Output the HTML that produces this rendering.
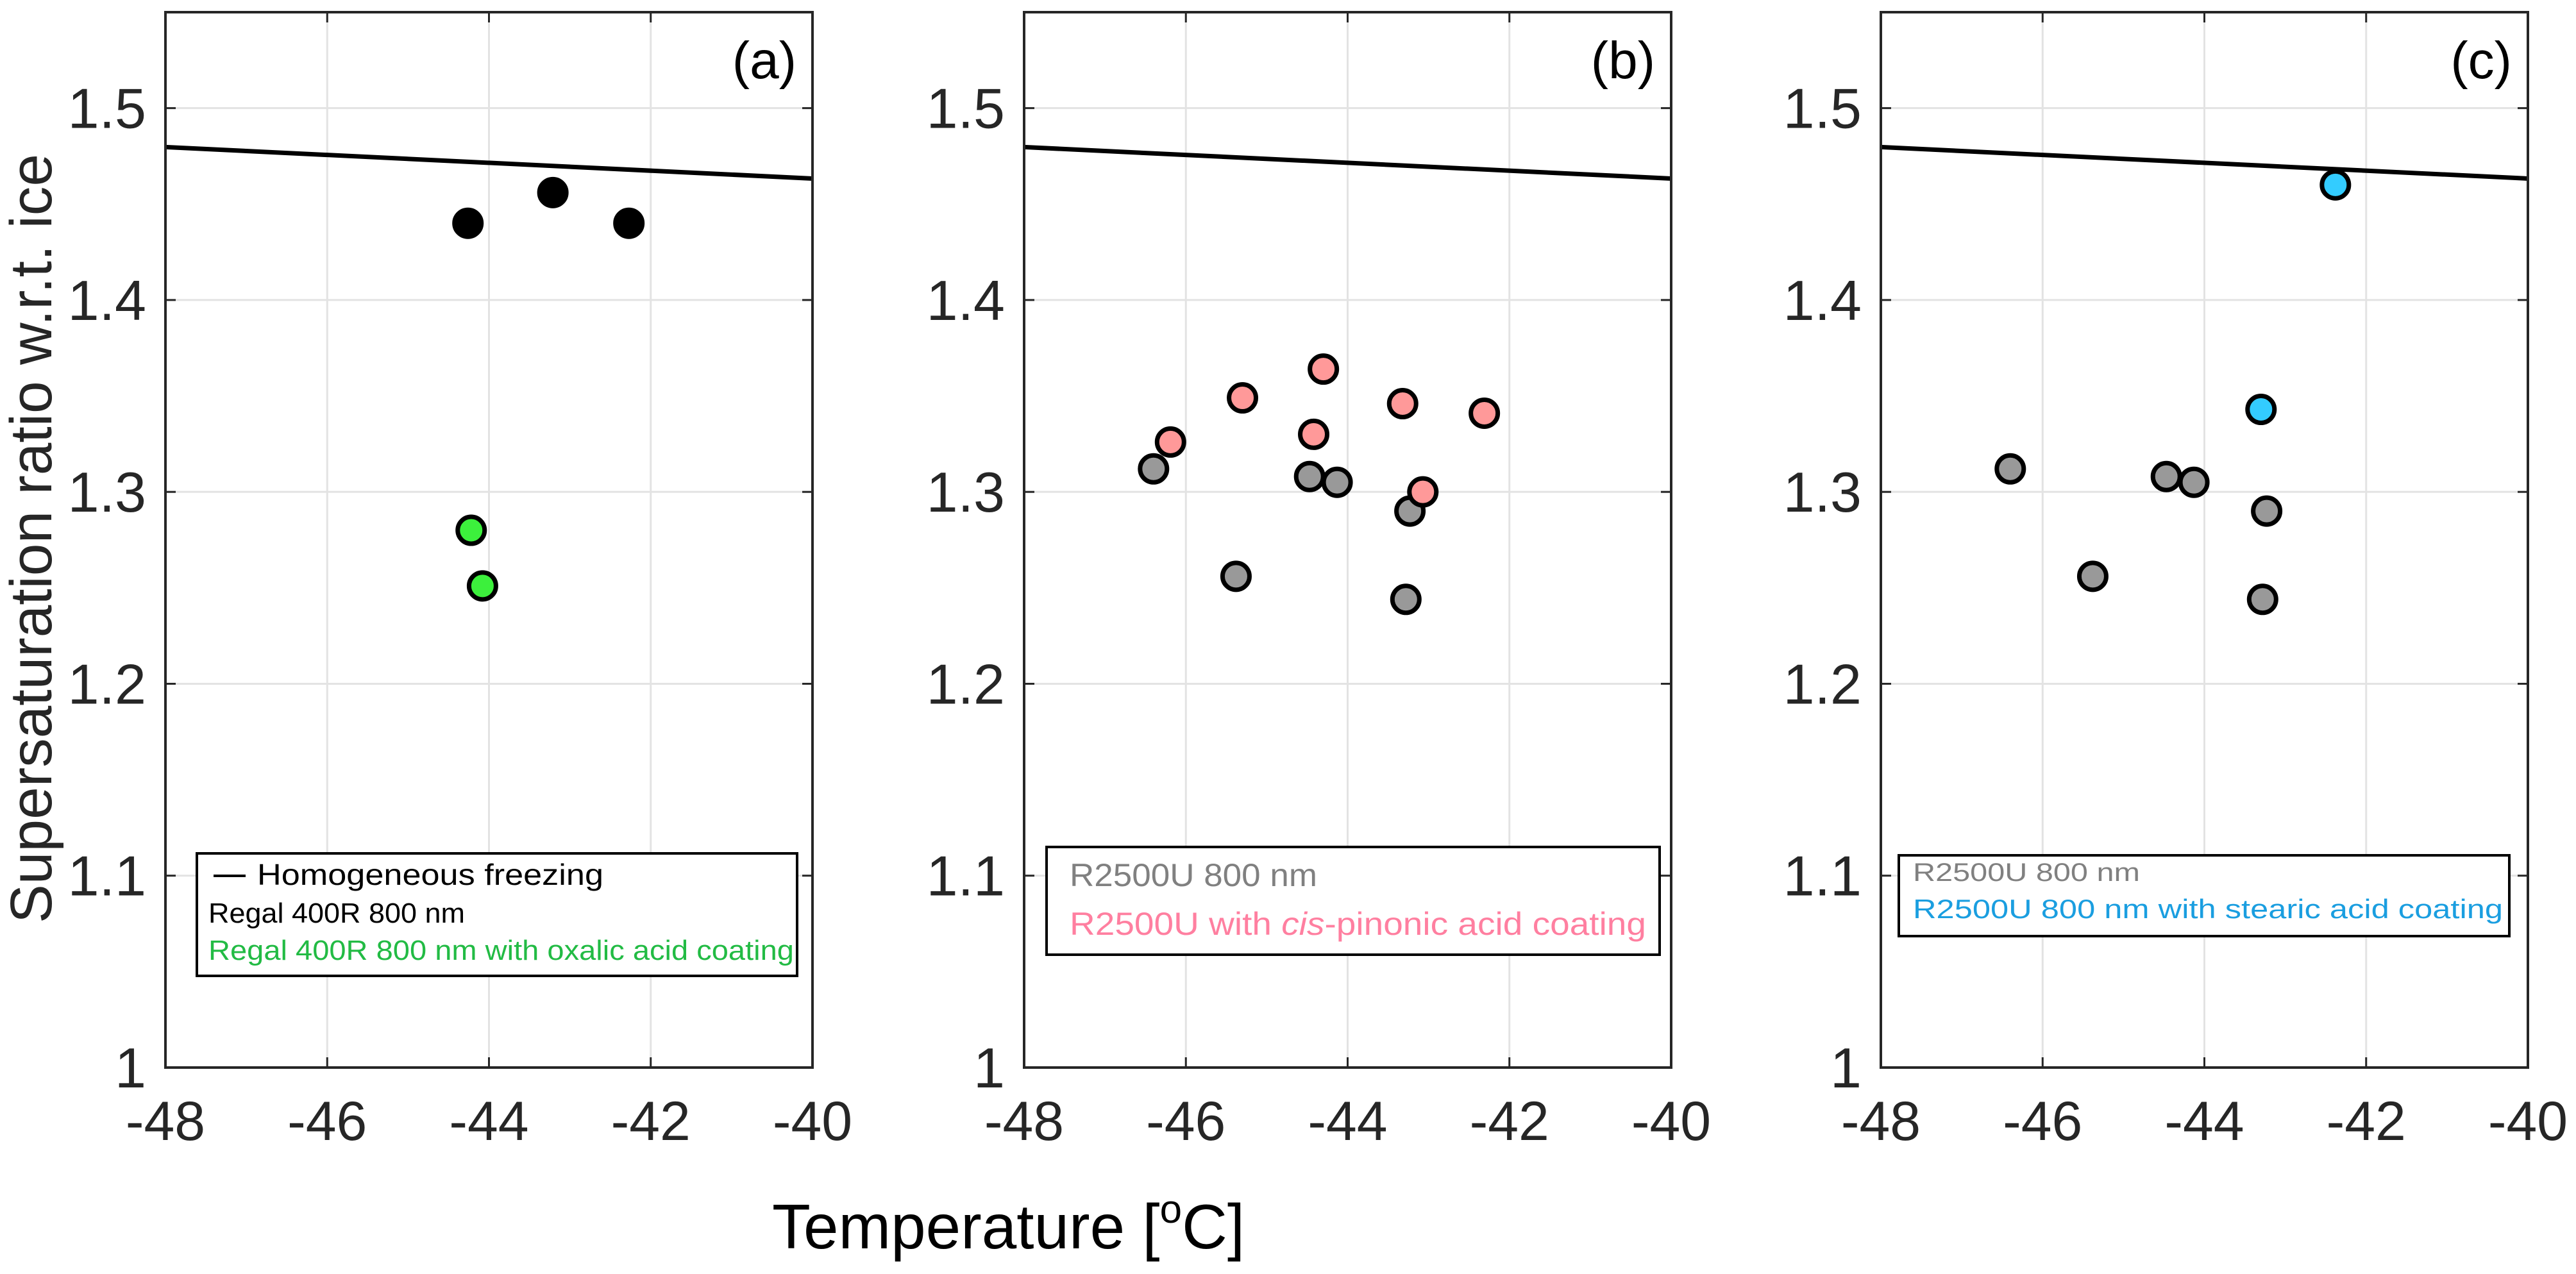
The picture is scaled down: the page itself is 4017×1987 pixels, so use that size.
<!DOCTYPE html>
<html><head><meta charset="utf-8">
<style>
html,body{margin:0;padding:0;background:#fff;}
svg{display:block;font-family:"Liberation Sans",sans-serif;}
</style></head>
<body>
<svg id="fig" width="4017" height="1987" viewBox="0 0 4017 1987" xmlns="http://www.w3.org/2000/svg"></svg>
<script>
// ---- data ----
const xTicks = [-48, -46, -44, -42, -40];
const yTicks = [1, 1.1, 1.2, 1.3, 1.4, 1.5];
const yTickLabels = ["1", "1.1", "1.2", "1.3", "1.4", "1.5"];
const homogT = [-48, -40];
const homogS = [1.4797, 1.4633];
const regalT = [-44.26, -43.21, -42.27];
const regalS = [1.440, 1.456, 1.440];
const oxalicT = [-44.22, -44.08];
const oxalicS = [1.280, 1.251];
const r2500T = [-46.40, -45.38, -44.47, -44.13, -43.23, -43.28];
const r2500S = [1.312, 1.256, 1.308, 1.305, 1.290, 1.244];
const pinonicT = [-46.19, -45.30, -44.30, -44.42, -43.32, -43.07, -42.31];
const pinonicS = [1.326, 1.349, 1.364, 1.330, 1.346, 1.300, 1.341];
const stearicT = [-42.38, -43.30];
const stearicS = [1.460, 1.343];

const NS = "http://www.w3.org/2000/svg";
const svg = document.getElementById("fig");
function mk(tag, attrs, parent) {
  const e = document.createElementNS(NS, tag);
  for (const k in attrs) e.setAttribute(k, attrs[k]);
  (parent || svg).appendChild(e);
  return e;
}
const TOP = 19, BOT = 1665, W = 1009;
const panels = [
  {left: 258, label: "(a)", key: "a"},
  {left: 1597, label: "(b)", key: "b"},
  {left: 2933, label: "(c)", key: "c"}
];
function xs(p, t) { return p.left + (t + 48) / 8 * W; }
function ys(s) { return BOT - (s - 1) / 0.55 * (BOT - TOP); }

panels.forEach(p => {
  const g = mk("g", {});
  
  
  mk("rect", {x: p.left, y: TOP, width: W, height: BOT - TOP, fill: "#fff"}, g);
  xTicks.forEach(t => {
    const l = mk("line", {x1: xs(p, t), x2: xs(p, t), y1: TOP, y2: BOT, stroke: "#e3e3e3", "stroke-width": 3}, g);
    
    
  });
  yTicks.forEach(v => {
    const l = mk("line", {x1: p.left, x2: p.left + W, y1: ys(v), y2: ys(v), stroke: "#e3e3e3", "stroke-width": 3}, g);
    
    
  });
  xTicks.forEach((t, i) => {
    const x = xs(p, t);
    mk("line", {x1: x, x2: x, y1: BOT, y2: BOT - 16, stroke: "#262626", "stroke-width": 3}, g);
    mk("line", {x1: x, x2: x, y1: TOP, y2: TOP + 16, stroke: "#262626", "stroke-width": 3}, g);
    const tx = mk("text", {x: x, y: 1778, "font-size": 86, fill: "#262626", "text-anchor": "middle"}, g);
    tx.textContent = String(t);
    
    
  });
  yTicks.forEach((v, i) => {
    const y = ys(v);
    mk("line", {x1: p.left, x2: p.left + 16, y1: y, y2: y, stroke: "#262626", "stroke-width": 3}, g);
    mk("line", {x1: p.left + W, x2: p.left + W - 16, y1: y, y2: y, stroke: "#262626", "stroke-width": 3}, g);
    const tx = mk("text", {x: p.left - 30, y: y + 31, "font-size": 88, fill: "#262626", "text-anchor": "end"}, g);
    tx.textContent = yTickLabels[i];
    
    
  });
  const hl = mk("line", {x1: xs(p, homogT[0]), y1: ys(homogS[0]), x2: xs(p, homogT[1]), y2: ys(homogS[1]), stroke: "#000", "stroke-width": 7}, g);
  
  
  p.g = g;
  const lb = mk("text", {x: p.left + W - 25, y: 122, "font-size": 82, fill: "#000", "text-anchor": "end"}, g);
  lb.textContent = p.label;
  
  
});

function dots(p, T, S, fill, stroke, name) {
  T.forEach((t, i) => {
    const c = mk("circle", {cx: xs(p, t), cy: ys(S[i]), r: 21, fill: fill, stroke: stroke, "stroke-width": 7}, p.g);
    
    
  });
}
dots(panels[0], regalT, regalS, "#000", "#000", "regal-400r-point");
dots(panels[0], oxalicT, oxalicS, "#3cf03c", "#000", "oxalic-coated-point");
dots(panels[1], r2500T, r2500S, "#999999", "#000", "r2500u-point");
dots(panels[1], pinonicT, pinonicS, "#ff9999", "#000", "pinonic-coated-point");
dots(panels[2], r2500T, r2500S, "#999999", "#000", "r2500u-point");
dots(panels[2], stearicT, stearicS, "#33ccff", "#000", "stearic-coated-point");

panels.forEach(p => {
  const b = mk("rect", {x: p.left, y: TOP, width: W, height: BOT - TOP, fill: "none", stroke: "#262626", "stroke-width": 4});
  
  
});

function legendBox(x, y, w, h, name) {
  const g = mk("g", {});
  
  
  mk("rect", {x: x, y: y, width: w, height: h, fill: "#fff", stroke: "#000", "stroke-width": 4}, g);
  return g;
}
function ltext(g, x, y, txt, color, size, len, name) {
  const t = mk("text", {x: x, y: y, fill: color, "font-size": size, textLength: len, lengthAdjust: "spacingAndGlyphs"}, g);
  t.textContent = txt;
  
  
  return t;
}
const la = legendBox(307, 1331, 936, 191, "legend-a");
mk("line", {x1: 333, x2: 383, y1: 1366, y2: 1366, stroke: "#000", "stroke-width": 4}, la);
ltext(la, 401, 1380, "Homogeneous freezing", "#000", 46, 540, "legend-entry-homogeneous");
ltext(la, 325, 1439, "Regal 400R 800 nm", "#000", 44, 400, "legend-entry-regal");
ltext(la, 325, 1497, "Regal 400R 800 nm with oxalic acid coating", "#22bb44", 44, 913, "legend-entry-oxalic");

const lbx = legendBox(1632, 1321, 956, 168, "legend-b");
ltext(lbx, 1668, 1382, "R2500U 800 nm", "#808080", 50, 386, "legend-entry-r2500u");
const pt = mk("text", {x: 1668, y: 1458, fill: "#ff7fa0", "font-size": 50, textLength: 899, lengthAdjust: "spacingAndGlyphs"}, lbx);


pt.innerHTML = 'R2500U with <tspan font-style="italic">cis</tspan>-pinonic acid coating';

const lc = legendBox(2961, 1334, 952, 126, "legend-c");
ltext(lc, 2983, 1374, "R2500U 800 nm", "#808080", 40, 354, "legend-entry-r2500u");
ltext(lc, 2983, 1432, "R2500U 800 nm with stearic acid coating", "#1a9ee0", 42, 920, "legend-entry-stearic");

const yt = mk("text", {x: 0, y: 0, "font-size": 92, fill: "#262626", "text-anchor": "middle", textLength: 1200, lengthAdjust: "spacingAndGlyphs", transform: "translate(80,840) rotate(-90)"});
yt.textContent = "Supersaturation ratio w.r.t. ice";



const xt = mk("text", {x: 1204, y: 1947, "font-size": 98, fill: "#000"});


xt.innerHTML = 'Temperature [<tspan dy="-40" font-size="62">o</tspan><tspan dy="40">C]</tspan>';
</script>
</body></html>
